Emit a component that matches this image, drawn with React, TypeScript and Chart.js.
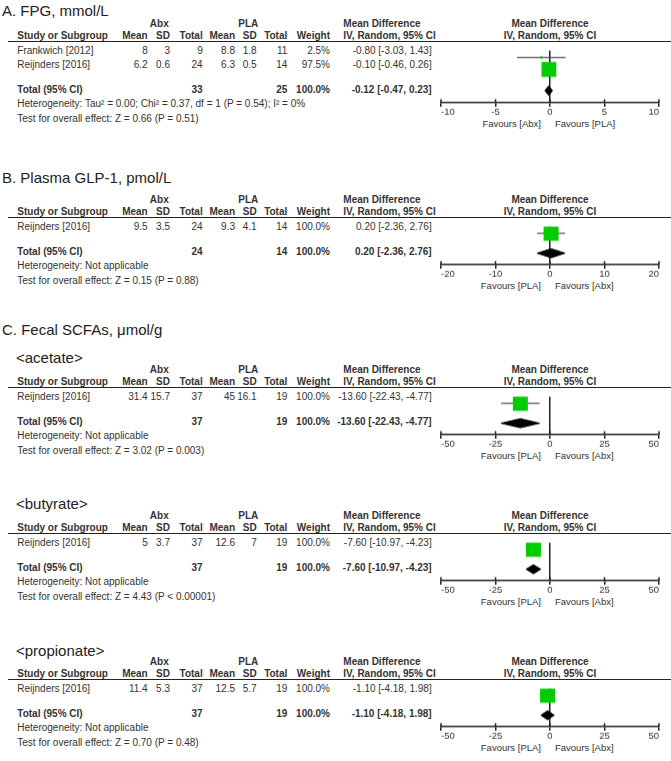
import React, { useEffect, useRef } from 'react';
import { Chart, registerables } from 'chart.js';
Chart.register(...registerables);

const FONT = '"Liberation Sans", Arial, Helvetica, sans-serif';
const GREEN = '#00cc00';
const INK = '#333333';
const LINE = '#222222';

// ---------- A. FPG, mmol/L ----------
const fpgStudies = ['Frankwich [2012]', 'Reijnders [2016]'];
const fpgAbx = [[8, 3, 9], [6.2, 0.6, 24]];
const fpgPla = [[8.8, 1.8, 11], [6.3, 0.5, 14]];
const fpgWeight = [2.5, 97.5];
const fpgMD = [-0.8, -0.1];
const fpgCI = [[-3.03, 1.43], [-0.46, 0.26]];
const fpgTotalN = [33, 25];
const fpgPooled = [-0.12, -0.47, 0.23];
const fpgTicks = [-10, -5, 0, 5, 10];
const fpgHet = 'Heterogeneity: Tau\u00b2 = 0.00; Chi\u00b2 = 0.37, df = 1 (P = 0.54); I\u00b2 = 0%';
const fpgTest = 'Test for overall effect: Z = 0.66 (P = 0.51)';
const fpgFavours = ['Favours [Abx]', 'Favours [PLA]'];

// ---------- B. Plasma GLP-1, pmol/L ----------
const glpStudies = ['Reijnders [2016]'];
const glpAbx = [[9.5, 3.5, 24]];
const glpPla = [[9.3, 4.1, 14]];
const glpWeight = [100];
const glpMD = [0.2];
const glpCI = [[-2.36, 2.76]];
const glpTotalN = [24, 14];
const glpPooled = [0.2, -2.36, 2.76];
const glpTicks = [-20, -10, 0, 10, 20];
const glpHet = 'Heterogeneity: Not applicable';
const glpTest = 'Test for overall effect: Z = 0.15 (P = 0.88)';
const glpFavours = ['Favours [PLA]', 'Favours [Abx]'];

// ---------- C. acetate ----------
const aceStudies = ['Reijnders [2016]'];
const aceAbx = [[31.4, 15.7, 37]];
const acePla = [[45, 16.1, 19]];
const aceWeight = [100];
const aceMD = [-13.6];
const aceCI = [[-22.43, -4.77]];
const aceTotalN = [37, 19];
const acePooled = [-13.6, -22.43, -4.77];
const aceTest = 'Test for overall effect: Z = 3.02 (P = 0.003)';

// ---------- C. butyrate ----------
const butStudies = ['Reijnders [2016]'];
const butAbx = [[5, 3.7, 37]];
const butPla = [[12.6, 7, 19]];
const butWeight = [100];
const butMD = [-7.6];
const butCI = [[-10.97, -4.23]];
const butTotalN = [37, 19];
const butPooled = [-7.6, -10.97, -4.23];
const butTest = 'Test for overall effect: Z = 4.43 (P < 0.00001)';

// ---------- C. propionate ----------
const proStudies = ['Reijnders [2016]'];
const proAbx = [[11.4, 5.3, 37]];
const proPla = [[12.5, 5.7, 19]];
const proWeight = [100];
const proMD = [-1.1];
const proCI = [[-4.18, 1.98]];
const proTotalN = [37, 19];
const proPooled = [-1.1, -4.18, 1.98];
const proTest = 'Test for overall effect: Z = 0.70 (P = 0.48)';

const scfaTicks = [-50, -25, 0, 25, 50];
const scfaHet = 'Heterogeneity: Not applicable';
const scfaFavours = ['Favours [PLA]', 'Favours [Abx]'];

// ---------- layout ----------
const COL = {
  study: 17.3,
  abxMean: 147.7, abxSD: 170, abxN: 202.7,
  plaMean: 235, plaSD: 256.7, plaN: 287.3,
  weight: 330, md: 431.7,
  abxHdr: 159.3, plaHdr: 248.3, mdHdr: 343.3, plotHdr: 550,
};
const CANVAS_LEFT = 330;
const CANVAS_W = 341;
const PAD_TOP = 2;
const AXIS_H = 30;

const fmtCI = (m: number, lo: number, hi: number) =>
  `${m.toFixed(2)} [${lo.toFixed(2)}, ${hi.toFixed(2)}]`;

function T({ x, y, a = 'l', b = false, s = 10, c = INK, children }: any) {
  const tx = a === 'r' ? '-100%' : a === 'c' ? '-50%' : '0';
  return (
    <div
      style={{
        position: 'absolute', left: x, top: y,
        transform: `translate(${tx}, -50%)`,
        whiteSpace: 'nowrap', fontFamily: FONT, fontSize: s,
        fontWeight: b ? 'bold' : 'normal', color: c, lineHeight: 1,
      }}
    >
      {children}
    </div>
  );
}

const crossTicks = {
  id: 'crossTicks',
  afterDatasetsDraw(chart: any) {
    const s = chart.scales.x;
    const ctx = chart.ctx;
    const y = chart.chartArea.bottom;
    ctx.save();
    ctx.strokeStyle = LINE;
    ctx.lineWidth = 1.5;
    s.ticks.forEach((t: any) => {
      const px = s.getPixelForValue(t.value);
      ctx.beginPath();
      ctx.moveTo(px, y - 3.5);
      ctx.lineTo(px, y);
      ctx.stroke();
    });
    ctx.restore();
  },
};

function Forest(p: any) {
  const ref = useRef<HTMLCanvasElement | null>(null);
  const n = p.studies.length;
  const rowOff = (i: number) => 9 + 14 * i;
  const totalOff = rowOff(n - 1) + 25;
  const axisOff = totalOff + 12.5;
  const H = PAD_TOP + axisOff + AXIS_H;
  const top = p.lineY;

  useEffect(() => {
    const ticks: number[] = p.ticks;
    const datasets: any[] = [];
    datasets.push({
      type: 'scatter',
      order: 0,
      data: p.md.map((m: number, i: number) => ({ x: m, y: rowOff(i) - 1 })),
      pointStyle: 'rect',
      pointRadius: (c: any) => (15 * Math.sqrt(p.weight[c.dataIndex] / 100)) / Math.SQRT2,
      pointBackgroundColor: GREEN,
      pointBorderColor: GREEN,
      pointBorderWidth: 0,
    });
    p.ci.forEach((ci: number[], i: number) => {
      datasets.push({
        type: 'line',
        order: 1,
        data: [{ x: ci[0], y: rowOff(i) - 1 }, { x: ci[1], y: rowOff(i) - 1 }],
        borderColor: '#555555',
        borderWidth: 1.2,
        pointRadius: 0,
        showLine: true,
        fill: false,
      });
    });
    const [pm, plo, phi] = p.pooled;
    const ty = totalOff - 1.5;
    const h = 5.5;
    datasets.push({
      type: 'line',
      order: 0,
      data: [
        { x: plo, y: ty }, { x: pm, y: ty - h }, { x: phi, y: ty },
        { x: pm, y: ty + h }, { x: plo, y: ty },
      ],
      borderColor: '#000000',
      backgroundColor: '#000000',
      borderWidth: 1,
      pointRadius: 0,
      tension: 0,
      showLine: true,
      fill: 'shape',
    });

    const chart = new Chart(ref.current as HTMLCanvasElement, {
      type: 'scatter',
      data: { datasets },
      options: {
        animation: false,
        responsive: false,
        maintainAspectRatio: false,
        events: [],
        layout: { padding: { left: 111, right: 12, top: PAD_TOP, bottom: 0 } },
        plugins: { legend: { display: false }, tooltip: { enabled: false } },
        scales: {
          x: {
            type: 'linear',
            min: ticks[0],
            max: ticks[ticks.length - 1],
            afterBuildTicks: (s: any) => { s.ticks = ticks.map((v) => ({ value: v })); },
            afterFit: (s: any) => { s.height = AXIS_H; },
            ticks: {
              align: 'inner',
              padding: 0,
              color: INK,
              font: { family: FONT, size: 9.5 },
              callback: (v: any) => String(v),
            },
            grid: {
              color: (c: any) => (c.tick && c.tick.value === 0 ? LINE : 'rgba(0,0,0,0)'),
              lineWidth: 1.5,
              drawTicks: true,
              tickLength: 4,
              tickColor: LINE,
              tickWidth: 1.5,
            },
            border: { display: true, color: LINE, width: 1.5 },
          } as any,
          y: { type: 'linear', display: false, min: 0, max: axisOff, reverse: true },
        },
      } as any,
      plugins: [crossTicks],
    });
    return () => chart.destroy();
  }, []);

  const hy = top - 18;
  const cy = top - 6;
  const tY = top + totalOff;
  return (
    <>
      <T x={COL.abxHdr} y={hy} a="c" b>Abx</T>
      <T x={COL.plaHdr} y={hy} a="c" b>PLA</T>
      <T x={COL.mdHdr} y={hy} b>Mean Difference</T>
      <T x={COL.plotHdr} y={hy} a="c" b>Mean Difference</T>
      <T x={COL.study} y={cy} b>Study or Subgroup</T>
      <T x={COL.abxMean} y={cy} a="r" b>Mean</T>
      <T x={COL.abxSD} y={cy} a="r" b>SD</T>
      <T x={COL.abxN} y={cy} a="r" b>Total</T>
      <T x={COL.plaMean} y={cy} a="r" b>Mean</T>
      <T x={COL.plaSD} y={cy} a="r" b>SD</T>
      <T x={COL.plaN} y={cy} a="r" b>Total</T>
      <T x={COL.weight} y={cy} a="r" b>Weight</T>
      <T x={COL.mdHdr} y={cy} b>IV, Random, 95% CI</T>
      <T x={COL.plotHdr} y={cy} a="c" b>IV, Random, 95% CI</T>
      <div style={{ position: 'absolute', left: 8, top: top - 0.75, width: 663, height: 0, borderTop: `1.5px solid ${LINE}` }} />
      {p.studies.map((s: string, i: number) => {
        const y = top + rowOff(i);
        return (
          <React.Fragment key={s + i}>
            <T x={COL.study} y={y}>{s}</T>
            <T x={COL.abxMean} y={y} a="r">{String(p.abx[i][0])}</T>
            <T x={COL.abxSD} y={y} a="r">{String(p.abx[i][1])}</T>
            <T x={COL.abxN} y={y} a="r">{String(p.abx[i][2])}</T>
            <T x={COL.plaMean} y={y} a="r">{String(p.pla[i][0])}</T>
            <T x={COL.plaSD} y={y} a="r">{String(p.pla[i][1])}</T>
            <T x={COL.plaN} y={y} a="r">{String(p.pla[i][2])}</T>
            <T x={COL.weight} y={y} a="r">{p.weight[i].toFixed(1) + '%'}</T>
            <T x={COL.md} y={y} a="r">{fmtCI(p.md[i], p.ci[i][0], p.ci[i][1])}</T>
          </React.Fragment>
        );
      })}
      <T x={COL.study} y={tY} b>Total (95% CI)</T>
      <T x={COL.abxN} y={tY} a="r" b>{String(p.totalN[0])}</T>
      <T x={COL.plaN} y={tY} a="r" b>{String(p.totalN[1])}</T>
      <T x={COL.weight} y={tY} a="r" b>100.0%</T>
      <T x={COL.md} y={tY} a="r" b>{fmtCI(p.pooled[0], p.pooled[1], p.pooled[2])}</T>
      <T x={COL.study} y={tY + 14}>{p.het}</T>
      <T x={COL.study} y={tY + 28.5}>{p.test}</T>
      <T x={541} y={top + axisOff + 21} a="r" s={9.5}>{p.favours[0]}</T>
      <T x={555} y={top + axisOff + 21} s={9.5}>{p.favours[1]}</T>
      <canvas
        ref={ref}
        width={CANVAS_W}
        height={H}
        style={{ position: 'absolute', left: CANVAS_LEFT, top: top - PAD_TOP, width: CANVAS_W, height: H }}
      />
    </>
  );
}

export default function App() {
  return (
    <div style={{ position: 'absolute', left: 0, top: 0, width: 671, height: 761, background: '#ffffff', overflow: 'hidden' }}>
      <T x={2} y={9.5} s={15} c={LINE}>A. FPG, mmol/L</T>
      <Forest lineY={42} studies={fpgStudies} abx={fpgAbx} pla={fpgPla} weight={fpgWeight} md={fpgMD} ci={fpgCI}
        totalN={fpgTotalN} pooled={fpgPooled} ticks={fpgTicks} het={fpgHet} test={fpgTest} favours={fpgFavours} />

      <T x={2} y={177} s={15} c={LINE}>B. Plasma GLP-1, pmol/L</T>
      <Forest lineY={218} studies={glpStudies} abx={glpAbx} pla={glpPla} weight={glpWeight} md={glpMD} ci={glpCI}
        totalN={glpTotalN} pooled={glpPooled} ticks={glpTicks} het={glpHet} test={glpTest} favours={glpFavours} />

      <T x={2} y={329} s={15} c={LINE}>C. Fecal SCFAs, μmol/g</T>
      <T x={16} y={357} s={15} c={LINE}>{'<acetate>'}</T>
      <Forest lineY={388} studies={aceStudies} abx={aceAbx} pla={acePla} weight={aceWeight} md={aceMD} ci={aceCI}
        totalN={aceTotalN} pooled={acePooled} ticks={scfaTicks} het={scfaHet} test={aceTest} favours={scfaFavours} />

      <T x={16} y={503} s={15} c={LINE}>{'<butyrate>'}</T>
      <Forest lineY={534} studies={butStudies} abx={butAbx} pla={butPla} weight={butWeight} md={butMD} ci={butCI}
        totalN={butTotalN} pooled={butPooled} ticks={scfaTicks} het={scfaHet} test={butTest} favours={scfaFavours} />

      <T x={16} y={650} s={15} c={LINE}>{'<propionate>'}</T>
      <Forest lineY={680} studies={proStudies} abx={proAbx} pla={proPla} weight={proWeight} md={proMD} ci={proCI}
        totalN={proTotalN} pooled={proPooled} ticks={scfaTicks} het={scfaHet} test={proTest} favours={scfaFavours} />
    </div>
  );
}
